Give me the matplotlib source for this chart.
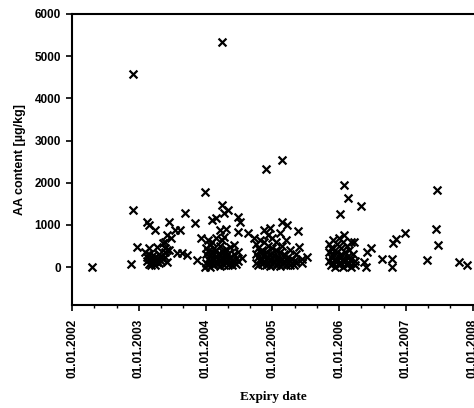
import matplotlib
matplotlib.use("Agg")
import matplotlib.pyplot as plt
from matplotlib.ticker import FixedLocator, MultipleLocator

# Expiry date (decimal year) and AA content [µg/kg]
expiry_2003 = [2002.30, 2002.88, 2002.91, 2002.91, 2002.97, 2003.09, 2003.13, 2003.16, 2003.24,
               2003.16, 2003.28, 2003.36, 2003.39, 2003.42, 2003.42, 2003.46, 2003.46, 2003.49,
               2003.54, 2003.57, 2003.61, 2003.64, 2003.69, 2003.72, 2003.84, 2003.87, 2003.42,
               2003.13, 2003.13, 2003.16, 2003.16, 2003.16, 2003.19, 2003.19, 2003.19,
               2003.22, 2003.22, 2003.22, 2003.25, 2003.25, 2003.25, 2003.28, 2003.28,
               2003.31, 2003.31, 2003.34, 2003.34, 2003.37, 2003.39, 2003.39, 2003.39]
aa_2003 = [0, 70, 1350, 4580, 470, 360, 1070, 1000, 880,
           450, 470, 570, 590, 400, 760, 1070, 400, 690,
           880, 330, 880, 330, 1280, 280, 1040, 170, 120,
           150, 250, 80, 200, 300, 120, 220, 50,
           180, 100, 280, 150, 60, 230, 200, 120,
           90, 300, 150, 250, 200, 250, 350, 450]

expiry_2004 = [2003.99, 2004.24, 2004.25, 2004.33, 2004.27, 2004.09, 2004.16, 2004.49, 2004.52,
               2004.22, 2004.49, 2004.63, 2003.93, 2004.03, 2004.27, 2004.42, 2003.99, 2004.55,
               2004.00, 2004.00, 2004.00, 2004.03, 2004.03, 2004.03,
               2004.06, 2004.06, 2004.06, 2004.06, 2004.09, 2004.09, 2004.09, 2004.09,
               2004.12, 2004.12, 2004.12, 2004.12, 2004.15, 2004.15, 2004.15, 2004.15,
               2004.18, 2004.18, 2004.18, 2004.21, 2004.21, 2004.21, 2004.21,
               2004.24, 2004.24, 2004.24, 2004.24, 2004.27, 2004.27, 2004.27,
               2004.30, 2004.30, 2004.30, 2004.30, 2004.33, 2004.33, 2004.33,
               2004.36, 2004.36, 2004.36, 2004.39, 2004.39, 2004.42, 2004.42,
               2004.45, 2004.45, 2004.48, 2004.48]
aa_2004 = [1770, 5330, 1470, 1350, 1270, 1110, 1160, 1190, 1070,
           880, 830, 800, 690, 640, 710, 520, 0, 210,
           100, 300, 450, 50, 200, 380,
           150, 280, 520, 0, 100, 220, 350, 600,
           50, 180, 300, 450, 120, 250, 400, 700,
           80, 200, 320, 30, 150, 280, 500,
           100, 220, 380, 650, 60, 180, 300,
           120, 250, 420, 900, 40, 160, 300,
           100, 230, 480, 50, 170, 120, 300,
           80, 200, 150, 350]

expiry_2005 = [2004.91, 2005.15, 2005.15, 2005.22, 2005.39, 2004.96, 2004.88, 2004.73, 2005.40,
               2005.52, 2004.81,
               2004.75, 2004.75, 2004.75, 2004.79, 2004.79, 2004.79, 2004.82, 2004.82, 2004.82,
               2004.85, 2004.85, 2004.85, 2004.88, 2004.88, 2004.88, 2004.91, 2004.91, 2004.91,
               2004.94, 2004.94, 2004.94, 2004.94, 2004.97, 2004.97, 2004.97,
               2005.00, 2005.00, 2005.00, 2005.00, 2005.03, 2005.03,
               2005.06, 2005.06, 2005.06, 2005.06, 2005.09, 2005.09,
               2005.12, 2005.12, 2005.12, 2005.12, 2005.15, 2005.15, 2005.15,
               2005.18, 2005.18, 2005.21, 2005.21, 2005.21, 2005.24, 2005.24,
               2005.27, 2005.27, 2005.27, 2005.30, 2005.30, 2005.33, 2005.33,
               2005.36, 2005.36, 2005.45, 2005.45]
aa_2005 = [2320, 2550, 1070, 1000, 850, 920, 880, 690, 470,
           240, 170,
           100, 300, 550, 50, 250, 450, 150, 350, 650,
           80, 200, 400, 120, 300, 600, 50, 180, 350,
           100, 250, 500, 750, 30, 160, 300,
           80, 220, 450, 700, 120, 280,
           50, 200, 400, 600, 100, 250,
           30, 150, 350, 800, 80, 200, 500,
           120, 300, 50, 180, 650, 100, 250,
           60, 150, 400, 100, 200, 50, 150,
           120, 300, 100, 200]

expiry_2006 = [2006.07, 2006.13, 2006.33, 2006.01, 2006.99, 2006.85, 2006.81, 2006.64, 2006.79,
               2006.79, 2006.48, 2006.42, 2006.37, 2006.40, 2006.07, 2006.18, 2006.22,
               2007.46, 2007.45, 2007.48, 2007.31, 2007.79, 2007.91,
               2005.85, 2005.85, 2005.85, 2005.88, 2005.88, 2005.88, 2005.91, 2005.91, 2005.91,
               2005.94, 2005.94, 2005.94, 2005.97, 2005.97, 2005.97, 2006.00, 2006.00, 2006.00,
               2006.03, 2006.03, 2006.03, 2006.06, 2006.06, 2006.06, 2006.09, 2006.09,
               2006.12, 2006.12, 2006.12, 2006.15, 2006.15, 2006.18, 2006.18,
               2006.21, 2006.21, 2006.24, 2006.24]
aa_2006 = [1940, 1630, 1450, 1250, 800, 660, 570, 190, 190,
           0, 450, 350, 120, 0, 760, 590, 590,
           1820, 900, 520, 170, 120, 50,
           150, 350, 550, 50, 250, 450, 100, 300, 650,
           0, 200, 400, 150, 350, 550, 50, 250, 700,
           100, 300, 450, 0, 200, 600, 150, 350,
           50, 250, 500, 100, 400, 0, 200,
           100, 300, 50, 150]

year_ticks = [2002, 2003, 2004, 2005, 2006, 2007, 2008]
year_labels = ["01.01.2002", "01.01.2003", "01.01.2004", "01.01.2005",
               "01.01.2006", "01.01.2007", "01.01.2008"]
aa_ticks = [0, 1000, 2000, 3000, 4000, 5000, 6000]

expiry = expiry_2003 + expiry_2004 + expiry_2005 + expiry_2006
aa = aa_2003 + aa_2004 + aa_2005 + aa_2006

fig = plt.figure(figsize=(4.74, 4.08), dpi=100)
ax = fig.add_axes([72 / 474, 1 - 305 / 408, 1 - 72 / 474, (305 - 14) / 408])

ax.scatter(expiry, aa, marker="x", s=32, color="black", linewidths=1.6, clip_on=True)

ax.set_xlim(2002.0, 2008.02)
ax.set_ylim(-900, 6000)

ax.xaxis.set_major_locator(FixedLocator(year_ticks))
ax.set_xticklabels(year_labels, rotation=90, fontsize=8.5, fontweight="bold",
                   family="Liberation Sans")
ax.xaxis.set_minor_locator(MultipleLocator(1 / 3))
ax.yaxis.set_major_locator(FixedLocator(aa_ticks))
ax.set_yticklabels([str(v) for v in aa_ticks], fontsize=8.5, fontweight="bold",
                   family="Liberation Sans")

ax.tick_params(axis="x", which="major", direction="out", length=4, width=1.2, pad=6)
ax.tick_params(axis="x", which="minor", direction="out", length=2.5, width=1.0)
ax.tick_params(axis="y", which="major", direction="out", length=4, width=1.2, pad=4)

for side in ["left", "top", "bottom"]:
    ax.spines[side].set_linewidth(1.5)
ax.spines["right"].set_visible(False)

ax.set_ylabel("AA content [µg/kg]", fontsize=9, fontweight="bold",
              family="Liberation Sans", labelpad=6)
ax.set_xlabel("Expiry date", fontsize=9.5, fontweight="bold",
              family="Liberation Serif", labelpad=9)

fig.savefig("out.png", dpi=100)
